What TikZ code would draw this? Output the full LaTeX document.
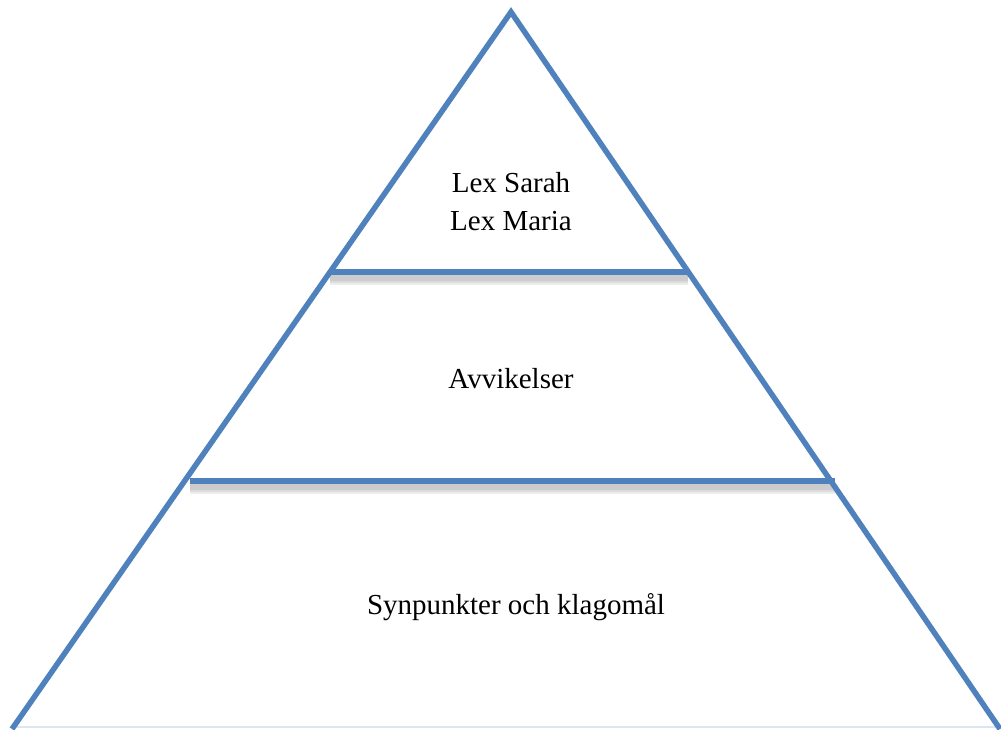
\documentclass[tikz,border=0pt]{standalone}
\usepackage{fontspec}
\setmainfont{Liberation Serif}
\definecolor{pyrblue}{HTML}{4F81BD}
\definecolor{baseblue}{HTML}{DCE6F2}
\begin{document}
\begin{tikzpicture}[x=1pt,y=-1pt,
  edge/.style={draw=pyrblue,line width=5.5pt},
  tier/.style={draw=pyrblue,line width=6pt},
  shade/.style={draw=black,line width=#1,opacity=0.07},
  lbl/.style={font=\fontsize{29}{38}\selectfont,align=center,inner sep=0pt}]
\useasboundingbox (0,0) rectangle (1001,729);
\fill[white] (0,0) rectangle (1001,729);
\coordinate (apex) at (511,12);
\coordinate (bl) at (12,729);
\coordinate (br) at (1000,729);
\coordinate (t1l) at (330,272);
\coordinate (t1r) at (688,272);
\coordinate (t2l) at (190,481);
\coordinate (t2r) at (835,481);
\coordinate (b1) at (15,727);
\coordinate (b2) at (1001,727);
\draw[baseblue,line width=1.2pt] (b1) -- (b2);
% shadows
\foreach \w in {14pt,10pt,6pt}{
  \draw[shade=\w] ([yshift=-6pt]t1l) -- ([yshift=-6pt]t1r);
  \draw[shade=\w] ([yshift=-6pt]t2l) -- ([yshift=-6pt]t2r);
}
\draw[edge,line join=miter] (bl) -- (apex) -- (br);
\draw[tier] (t1l) -- (t1r);
\draw[tier] (t2l) -- (t2r);
\node[lbl] (top) at (511,202) {Lex Sarah\\Lex Maria};
\node[lbl] (mid) at (511,379) {Avvikelser};
\node[lbl] (bot) at (516,607) {Synpunkter och klagomål};
\end{tikzpicture}
\end{document}
